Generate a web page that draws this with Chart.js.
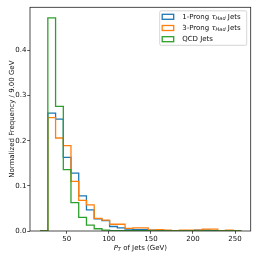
<!DOCTYPE html>
<html><head><meta charset="utf-8">
<script src="https://cdn.jsdelivr.net/npm/chart.js@4.4.1/dist/chart.umd.min.js"></script>
<style>html,body{margin:0;padding:0;background:#fff}canvas{display:block}</style>
</head><body>
<canvas id="c" width="258" height="258"></canvas>
<script>
// ---- data ----
const binEdges = [18.3, 27.5, 36.7, 45.9, 55.0, 64.2, 73.4, 82.6, 91.8, 100.9, 110.1, 119.3, 128.5, 137.7,
                  146.8, 156.0, 165.2, 174.4, 183.6, 192.7, 201.9, 211.1, 220.3, 229.5, 238.6, 247.8, 257.0];
const oneProng   = [0, 0.261, 0.248, 0.163, 0.128, 0.078, 0.047, 0.027, 0.023, 0.010, 0.007, 0.004, 0.003,
                    0.003, 0.002, 0.001, 0.001, 0.001, 0.001, 0.001, 0.002, 0.002, 0.001, 0.001, 0.0005, 0];
const threeProng = [0, 0.251, 0.206, 0.189, 0.110, 0.068, 0.058, 0.028, 0.024, 0.015, 0.015, 0.006, 0.007,
                    0.007, 0.002, 0.003, 0.002, 0.001, 0.002, 0.002, 0.002, 0.004, 0.004, 0.001, 0.002, 0.0005];
const qcdJets    = [0, 0.472, 0.276, 0.136, 0.063, 0.030, 0.013, 0.005, 0.002, 0.001, 0.001, 0.0005, 0.0005,
                    0.0005, 0.0003, 0.0003, 0.0003, 0.0002, 0.0002, 0.0002, 0.0002, 0.0002, 0.0002, 0.0002, 0.0002, 0.0002];
const seriesNames = ['1-Prong τHad Jets', '3-Prong τHad Jets', 'QCD Jets'];
const legendParts = [
  {pre: '1-Prong ', sym: 'τ', sub: 'Had', post: ' Jets'},
  {pre: '3-Prong ', sym: 'τ', sub: 'Had', post: ' Jets'},
  {pre: 'QCD Jets', sym: '', sub: '', post: ''}
];
const seriesColors = ['#1f77b4', '#ff7f0e', '#2ca02c'];
const xTicks = [50, 100, 150, 200, 250];
const yTicks = [0.0, 0.1, 0.2, 0.3, 0.4];
const xLimits = [6.3, 268.6];
const yLimits = [0, 0.4956];
const yTitle = 'Normalized Frequency / 9.00 GeV';
const xTitleParts = {main: 'P', sub: 'T', rest: ' of Jets (GeV)'};

const FONT = 'DejaVu Sans';

function stepPoints(vals) {
  const pts = [{x: binEdges[0], y: 0}];
  vals.forEach((v, i) => pts.push({x: binEdges[i], y: v}));
  pts.push({x: binEdges[vals.length], y: vals[vals.length - 1]});
  pts.push({x: binEdges[vals.length], y: 0});
  return pts;
}

const boxPlugin = {
  id: 'boxAndText',
  afterDraw(chart) {
    const ctx = chart.ctx, a = chart.chartArea;
    ctx.save();
    // spines
    ctx.strokeStyle = '#222';
    ctx.lineWidth = 0.8;
    ctx.strokeRect(a.left, a.top, a.right - a.left, a.bottom - a.top);

    // legend
    const bw = 87, bh = 34.5;
    const bx = a.right - 4 - bw, by = a.top + 3.5;
    ctx.fillStyle = 'rgba(255,255,255,0.8)';
    ctx.strokeStyle = '#cccccc';
    ctx.lineWidth = 0.8;
    ctx.beginPath();
    ctx.roundRect(bx, by, bw, bh, 1.5);
    ctx.fill(); ctx.stroke();
    legendParts.forEach((p, i) => {
      const cy = by + 6 + i * 11.2;
      ctx.strokeStyle = seriesColors[i];
      ctx.lineWidth = 1.3;
      ctx.strokeRect(bx + 2.5, cy - 2.5, 11.5, 5);
      let tx = bx + 22.5;
      ctx.fillStyle = '#111';
      ctx.textBaseline = 'middle';
      ctx.textAlign = 'left';
      ctx.font = `7px "${FONT}"`;
      ctx.fillText(p.pre, tx, cy);
      tx += ctx.measureText(p.pre).width;
      if (p.sym) {
        ctx.font = `italic 7px "${FONT}"`;
        ctx.fillText(p.sym, tx, cy);
        tx += ctx.measureText(p.sym).width;
        ctx.font = `italic 5px "${FONT}"`;
        ctx.fillText(p.sub, tx, cy + 1.5);
        tx += ctx.measureText(p.sub).width;
        ctx.font = `7px "${FONT}"`;
        ctx.fillText(p.post, tx, cy);
      }
    });

    // x title with subscript
    ctx.fillStyle = '#111';
    ctx.textBaseline = 'middle';
    ctx.textAlign = 'left';
    ctx.font = `italic 7px "${FONT}"`;
    const w1 = ctx.measureText(xTitleParts.main).width;
    ctx.font = `italic 5px "${FONT}"`;
    const w2 = ctx.measureText(xTitleParts.sub).width;
    ctx.font = `7px "${FONT}"`;
    const w3 = ctx.measureText(xTitleParts.rest).width;
    let x0 = (a.left + a.right) / 2 - (w1 + w2 + w3) / 2;
    const ty = 248.3;
    ctx.font = `italic 7px "${FONT}"`;
    ctx.fillText(xTitleParts.main, x0, ty); x0 += w1;
    ctx.font = `italic 5px "${FONT}"`;
    ctx.fillText(xTitleParts.sub, x0, ty + 1.5); x0 += w2;
    ctx.font = `7px "${FONT}"`;
    ctx.fillText(xTitleParts.rest, x0, ty);
    ctx.restore();
  }
};

const seriesValues = [oneProng, threeProng, qcdJets];
const datasets = seriesValues.map((vals, i) => ({
  label: seriesNames[i],
  data: stepPoints(vals),
  stepped: 'before',
  borderColor: seriesColors[i],
  borderWidth: 1.3,
  pointRadius: 0,
  fill: false,
  order: 3 - i
}));

new Chart(document.getElementById('c'), {
  type: 'line',
  data: {datasets},
  options: {
    responsive: false,
    animation: false,
    devicePixelRatio: 1,
    layout: {padding: {left: 0, right: 7.3, top: 7.3, bottom: 0}},
    plugins: {legend: {display: false}, tooltip: {enabled: false}},
    scales: {
      x: {
        type: 'linear',
        min: xLimits[0], max: xLimits[1],
        afterBuildTicks(s) { s.ticks = xTicks.map(v => ({value: v})); },
        afterFit(s) { s.height = 27; },
        grid: {drawOnChartArea: false, drawTicks: true, tickLength: 2.8, color: '#333', lineWidth: 0.8},
        border: {display: false},
        ticks: {font: {family: FONT, size: 7}, color: '#111', padding: 1.5, maxRotation: 0,
                callback: v => String(v)}
      },
      y: {
        type: 'linear',
        min: yLimits[0], max: yLimits[1],
        afterBuildTicks(s) { s.ticks = yTicks.map(v => ({value: v})); },
        afterFit(s) { s.width = 30; },
        grid: {drawOnChartArea: false, drawTicks: true, tickLength: 2.8, color: '#333', lineWidth: 0.8},
        border: {display: false},
        ticks: {font: {family: FONT, size: 7}, color: '#111', padding: 0.8,
                callback: v => Number(v).toFixed(1)},
        title: {display: true, text: yTitle, font: {family: FONT, size: 7}, color: '#111',
                padding: {top: 7.5, bottom: 0}}
      }
    }
  },
  plugins: [boxPlugin]
});
</script>
</body></html>
